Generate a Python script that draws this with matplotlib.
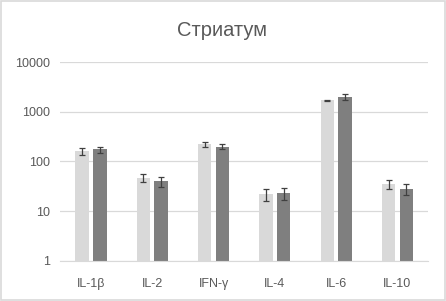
import matplotlib
matplotlib.use("Agg")
import matplotlib.pyplot as plt
import numpy as np

categories = ["IL-1β", "IL-2", "IFN-γ", "IL-4", "IL-6", "IL-10"]
light_values = [160, 47, 220, 22, 1700, 35]
light_err = [25, 9, 25, 6, 60, 7]
dark_values = [175, 40, 200, 23, 2000, 28]
dark_err = [25, 9, 25, 6, 250, 7]
yticks = [1, 10, 100, 1000, 10000]
ytick_labels = ["1", "10", "100", "1000", "10000"]


def main():
    plt.rcParams["font.family"] = ["Liberation Sans", "DejaVu Sans"]
    fig = plt.figure(figsize=(4.46, 3.01), dpi=100)
    ax = fig.add_axes([0.135, 0.133, 0.825, 0.661])

    x = np.arange(len(categories))
    width = 0.22
    offset = 0.145
    ax.bar(x - offset, light_values, width, color="#d9d9d9", zorder=2)
    ax.bar(x + offset, dark_values, width, color="#7f7f7f", zorder=2)
    ax.errorbar(x - offset, light_values, yerr=light_err, fmt="none",
                ecolor="#404040", elinewidth=0.9, capsize=2.5, capthick=0.9, zorder=3)
    ax.errorbar(x + offset, dark_values, yerr=dark_err, fmt="none",
                ecolor="#404040", elinewidth=0.9, capsize=2.5, capthick=0.9, zorder=3)

    ax.set_yscale("log")
    ax.set_ylim(1, 10000)
    ax.set_xlim(-0.5, len(categories) - 0.5)
    ax.set_yticks(yticks)
    ax.set_yticklabels(ytick_labels)
    ax.minorticks_off()
    ax.set_xticks(x)
    ax.set_xticklabels(categories)
    ax.tick_params(axis="both", length=0, labelsize=9, colors="#595959")
    ax.tick_params(axis="x", pad=12)
    ax.tick_params(axis="y", pad=7)

    ax.grid(axis="y", color="#d9d9d9", linewidth=0.9, zorder=0)
    for side in ["top", "right", "left"]:
        ax.spines[side].set_visible(False)
    ax.spines["bottom"].set_color("#d9d9d9")

    fig.text(0.498, 0.9, "Стриатум", ha="center", va="center",
             fontsize=14.5, color="#595959")

    border = plt.Rectangle((0.002, 0.003), 0.996, 0.994, transform=fig.transFigure,
                           fill=False, edgecolor="#d9d9d9", linewidth=1.2)
    fig.patches.append(border)

    fig.savefig("out.png", dpi=100)


if __name__ == "__main__":
    main()
